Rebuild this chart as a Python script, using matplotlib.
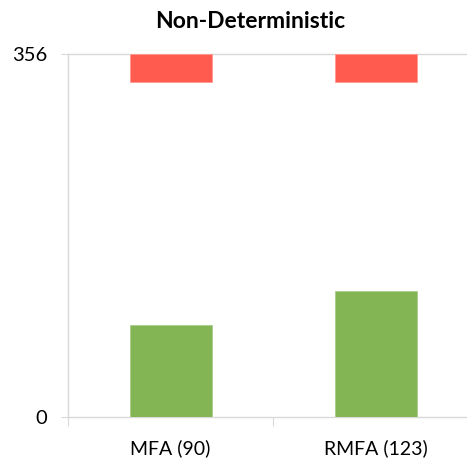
import matplotlib
matplotlib.use("Agg")
import matplotlib.pyplot as plt

categories = ["MFA (90)", "RMFA (123)"]
found = [90, 123]
missing_bottom = [328, 328]
total = 356

green = "#83B555"
red = "#FF5B4F"
grid = "#D9D9D9"

plt.rcParams["font.family"] = ["Lato", "DejaVu Sans"]

fig = plt.figure(figsize=(4.67, 4.59), dpi=100)
ax = fig.add_axes([68 / 467, 42 / 459, 410 / 467, 363.5 / 459])

x = list(range(len(categories)))
ax.bar(x, found, width=0.4, color=green, edgecolor="#A9CD8A", linewidth=0.6, zorder=3)
ax.bar(x, [total - b for b in missing_bottom], bottom=missing_bottom, width=0.4,
       color=red, edgecolor="#FF9A92", linewidth=0.6, zorder=3)

ax.set_xlim(-0.5, len(categories) - 0.5)
ax.set_ylim(0, total)
ax.set_yticks([0, total])
ax.set_yticklabels(["0", str(total)], fontsize=14.5, color="#000000")
ax.axhline(total, color=grid, linewidth=1.0, zorder=1, clip_on=False)

ax.set_xticks(x)
ax.set_xticklabels(categories, fontsize=14)
ax.set_xticks([-0.5, 0.5, 1.5], minor=True)
ax.tick_params(axis="x", which="major", length=0, pad=16)
ax.tick_params(axis="x", which="minor", length=6.5, width=0.8, color=grid, direction="out")
ax.tick_params(axis="y", length=5, width=0.8, color=grid, direction="out", pad=10)

for s in ["top", "right"]:
    ax.spines[s].set_visible(False)
for s in ["left", "bottom"]:
    ax.spines[s].set_color(grid)
    ax.spines[s].set_linewidth(1.0)

fig.text(250 / 467, 1 - 22 / 459, "Non-Deterministic", ha="center", va="center",
         fontsize=16.5, fontweight="bold")

fig.savefig("out.png", dpi=100)
